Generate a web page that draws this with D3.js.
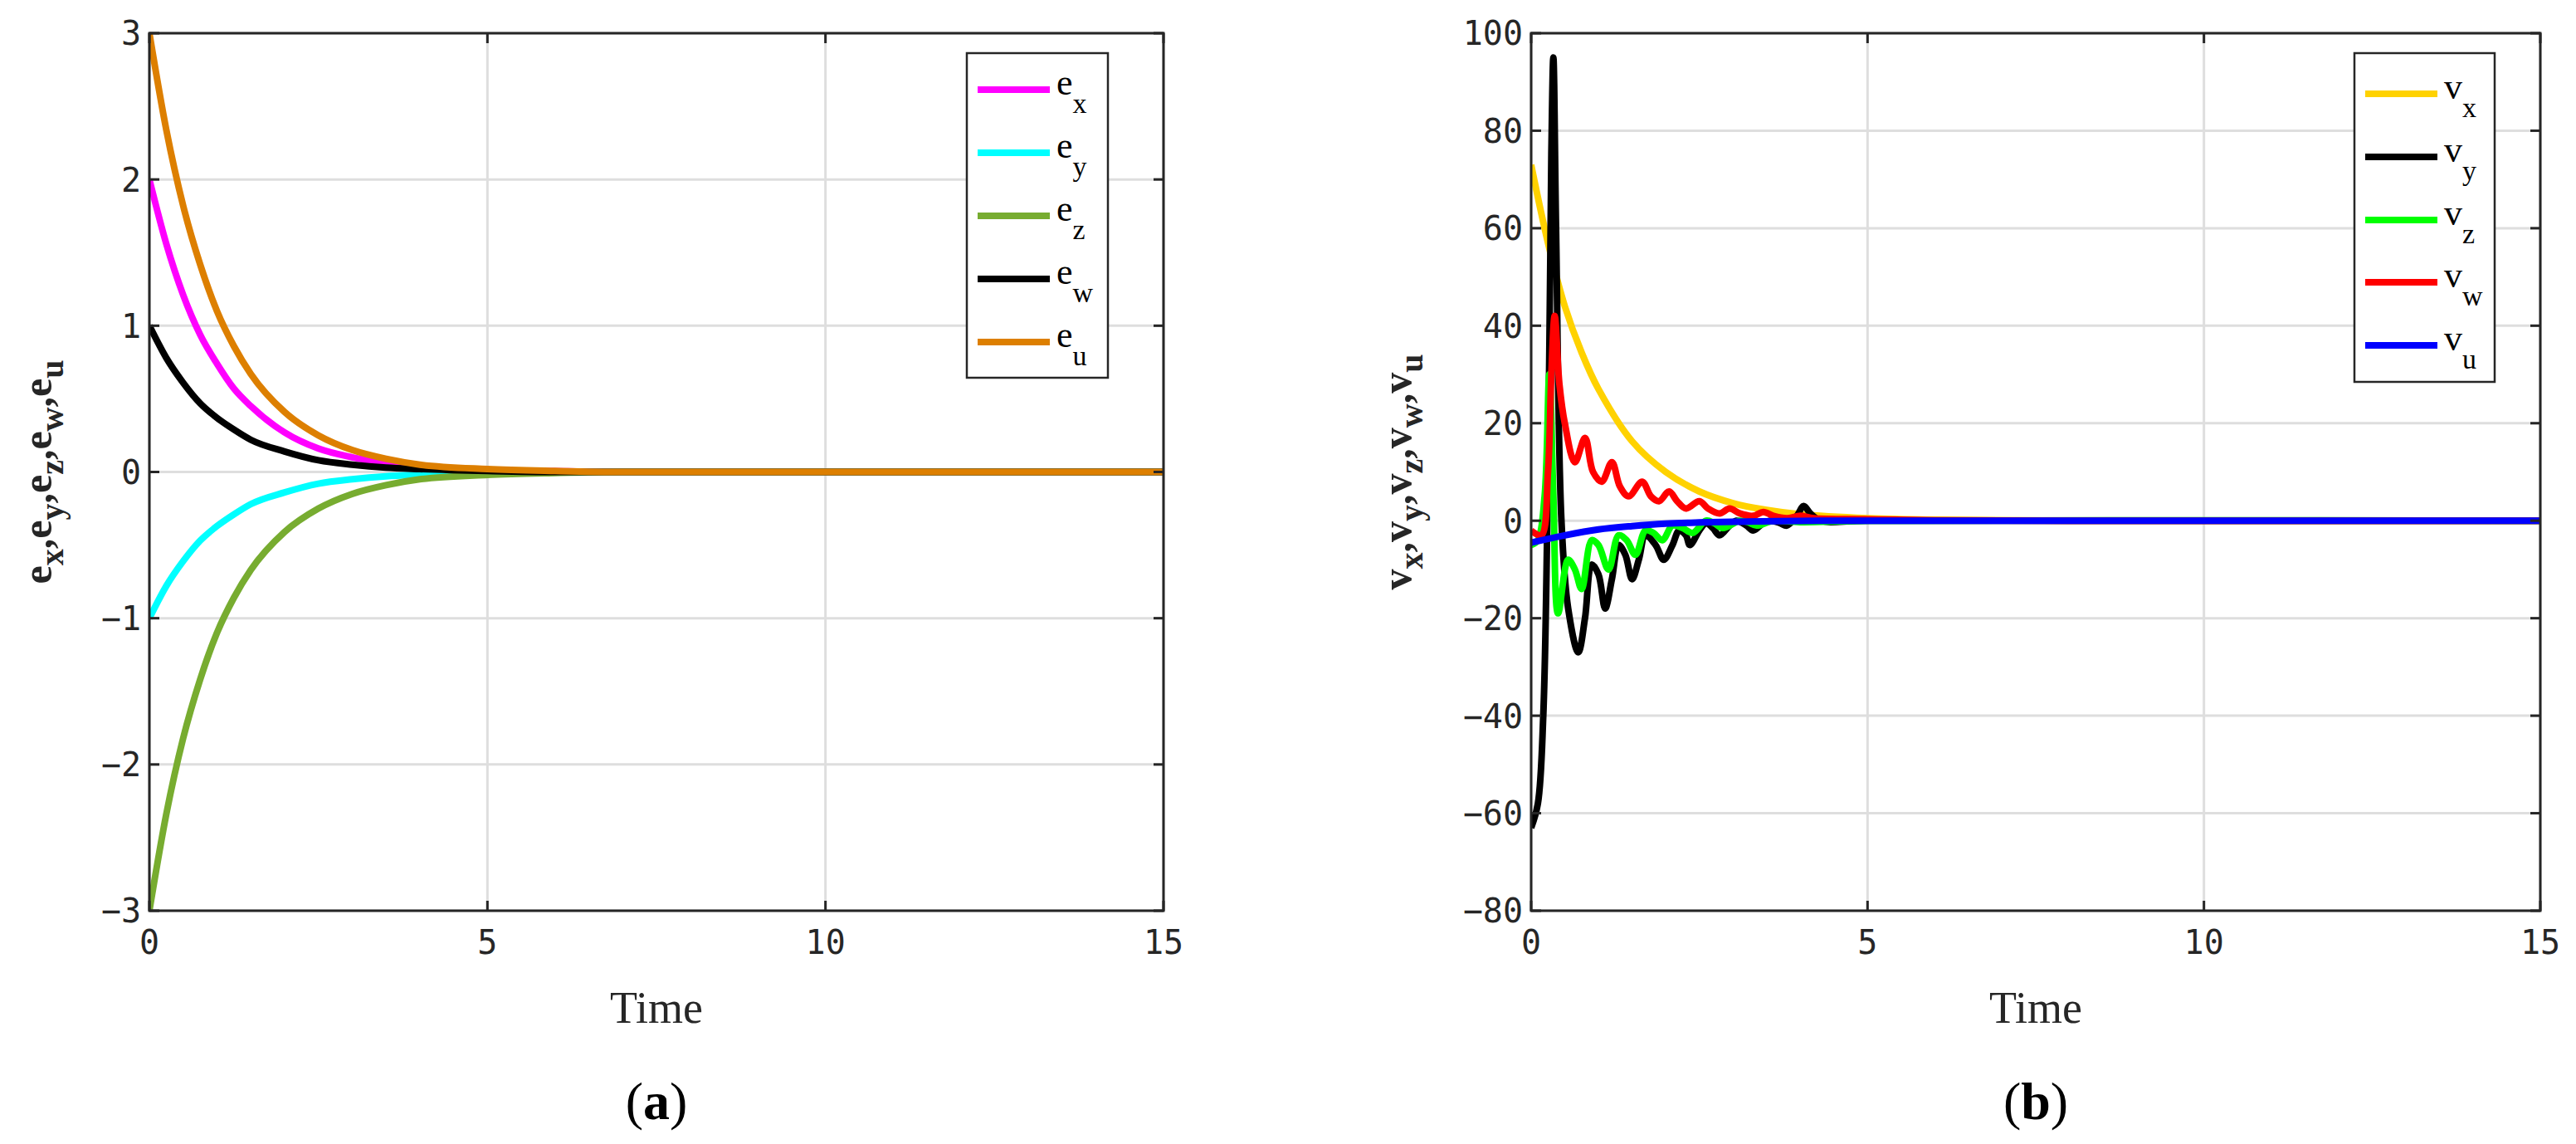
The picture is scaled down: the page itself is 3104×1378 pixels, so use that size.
<!DOCTYPE html>
<html><head><meta charset="utf-8">
<script src="https://cdn.jsdelivr.net/npm/d3@7"></script>
<style>body{margin:0;background:#fff}</style>
</head><body>
<svg id="c" width="3104" height="1378"></svg>
<script>
// panel (a): error signals
const tA = [0, 0.25, 0.5, 0.75, 1, 1.25, 1.5, 2, 2.5, 3, 3.5, 4, 5, 6, 7, 8, 10, 15];
const eX = [2, 1.56, 1.21, 0.94, 0.74, 0.57, 0.45, 0.27, 0.16, 0.10, 0.06, 0.04, 0.013, 0.005, 0, 0, 0, 0];
const eY = [-1, -0.78, -0.61, -0.47, -0.37, -0.29, -0.22, -0.14, -0.08, -0.05, -0.03, -0.02, -0.007, 0, 0, 0, 0, 0];
const eZ = [-3, -2.34, -1.82, -1.42, -1.10, -0.86, -0.67, -0.41, -0.25, -0.15, -0.09, -0.05, -0.02, -0.007, 0, 0, 0, 0];
const eW = [1, 0.78, 0.61, 0.47, 0.37, 0.29, 0.22, 0.14, 0.08, 0.05, 0.03, 0.02, 0.007, 0, 0, 0, 0, 0];
const eU = [3, 2.34, 1.82, 1.42, 1.10, 0.86, 0.67, 0.41, 0.25, 0.15, 0.09, 0.05, 0.02, 0.007, 0, 0, 0, 0];

// panel (b): control inputs
const vxT = [0, 0.25, 0.5, 0.75, 1, 1.5, 2, 2.5, 3, 3.5, 4, 5, 6, 8, 15];
const vxV = [73, 57, 44, 34.5, 27, 16.3, 10, 6, 3.6, 2.2, 1.3, 0.5, 0.2, 0, 0];
const vyT = [0, 0.1, 0.18, 0.25, 0.3, 0.33, 0.37, 0.45, 0.55, 0.7, 0.8, 0.9, 1.0, 1.1, 1.2, 1.3, 1.4, 1.5, 1.6, 1.7, 1.85, 1.97, 2.1, 2.2, 2.3, 2.36, 2.5, 2.6, 2.7, 2.8, 2.95, 3.05, 3.2, 3.3, 3.45, 3.55, 3.7, 3.8, 3.95, 4.05, 4.15, 4.3, 5, 15];
const vyV = [-63, -58, -40, 10, 75, 95, 60, 0, -18, -27, -20, -9, -11, -18, -12, -5, -7, -12, -8, -3, -5, -8, -5, -2, -3, -5, -2, -0.5, -1.5, -3, -1, 0, -1, -2, -0.5, 0, -0.5, -1, 1, 3, 1.5, 0, 0, 0];
const vzT = [0, 0.1, 0.2, 0.27, 0.33, 0.4, 0.55, 0.65, 0.75, 0.9, 1.0, 1.15, 1.3, 1.42, 1.55, 1.7, 1.82, 1.95, 2.1, 2.25, 2.4, 2.6, 2.72, 2.85, 3.1, 3.22, 3.35, 3.6, 4, 5, 15];
const vzV = [-5, -4, 5, 30, 5, -19, -8, -10, -14, -4, -5, -10, -3, -4, -7, -2, -2.5, -4, -1, -1.5, -2.5, 0, -0.5, -1.5, 0, -0.3, -1, 0, -0.3, 0, 0];
const vwT = [0, 0.15, 0.25, 0.3, 0.35, 0.42, 0.5, 0.65, 0.8, 0.92, 1.05, 1.2, 1.32, 1.45, 1.65, 1.78, 1.9, 2.05, 2.17, 2.3, 2.5, 2.63, 2.8, 2.95, 3.1, 3.3, 3.45, 3.6, 3.8, 4.0, 4.2, 5, 6, 8, 15];
const vwV = [-2, -3, 10, 30, 42, 28, 20, 12, 17, 10, 8, 12, 7, 5, 8, 5, 4, 6, 4, 2.5, 4, 2.5, 1.5, 2.5, 1.5, 1, 1.8, 1, 0.5, 1, 0.5, 0.3, 0.1, 0, 0];
const vuT = [0, 0.5, 1, 1.5, 2, 2.5, 3, 4, 5, 15];
const vuV = [-4.5, -3, -1.8, -1.1, -0.6, -0.35, -0.2, -0.05, 0, 0];

const xTicks = [0, 5, 10, 15];
const yTicksA = [-3, -2, -1, 0, 1, 2, 3];
const yTicksB = [-80, -60, -40, -20, 0, 20, 40, 60, 80, 100];

const panelA = {
  left: 180, right: 1402, top: 40, bottom: 1097, yDomain: [-3, 3], yTicks: yTicksA,
  yLabelX: 62, letter: "a", base: "e",
  legend: { x0: 1165, y0: 64, x1: 1335, y1: 455, rows: [108, 184, 260, 336, 412] },
  series: [
    { sub: "x", t: tA, v: eX, color: "#ff00ff" },
    { sub: "y", t: tA, v: eY, color: "#00ffff" },
    { sub: "z", t: tA, v: eZ, color: "#77ac30" },
    { sub: "w", t: tA, v: eW, color: "#000000" },
    { sub: "u", t: tA, v: eU, color: "#dd7f00" }
  ],
  curve: d3.curveMonotoneX
};
const panelB = {
  left: 1845, right: 3061, top: 40, bottom: 1097, yDomain: [-80, 100], yTicks: yTicksB,
  yLabelX: 1700, letter: "b", base: "v",
  legend: { x0: 2837, y0: 64, x1: 3006, y1: 460, rows: [113, 189, 265, 340, 416] },
  series: [
    { sub: "x", t: vxT, v: vxV, color: "#ffd200" },
    { sub: "y", t: vyT, v: vyV, color: "#000000" },
    { sub: "z", t: vzT, v: vzV, color: "#00ff00" },
    { sub: "w", t: vwT, v: vwV, color: "#ff0000" },
    { sub: "u", t: vuT, v: vuV, color: "#0000ff" }
  ],
  curve: d3.curveCatmullRom.alpha(0.5)
};

const svg = d3.select("#c");
const serif = "'Liberation Serif', 'DejaVu Serif', serif";
const mono = "'DejaVu Sans Mono', monospace";

function drawPanel(p) {
  const x = d3.scaleLinear().domain([0, 15]).range([p.left, p.right]);
  const y = d3.scaleLinear().domain(p.yDomain).range([p.bottom, p.top]);
  const g = svg.append("g");

  // grid
  g.selectAll(".gx").data(xTicks).enter().append("line")
    .attr("x1", d => x(d)).attr("x2", d => x(d)).attr("y1", p.top).attr("y2", p.bottom)
    .attr("stroke", "#dedede").attr("stroke-width", 3);
  g.selectAll(".gy").data(p.yTicks).enter().append("line")
    .attr("x1", p.left).attr("x2", p.right).attr("y1", d => y(d)).attr("y2", d => y(d))
    .attr("stroke", "#dedede").attr("stroke-width", 3);

  // series
  const clip = "clip" + p.letter;
  svg.append("clipPath").attr("id", clip).append("rect")
    .attr("x", p.left).attr("y", p.top).attr("width", p.right - p.left).attr("height", p.bottom - p.top);
  p.series.forEach(s => {
    const line = d3.line().x((d, i) => x(s.t[i])).y(d => y(d)).curve(p.curve);
    g.append("path").datum(s.v).attr("d", line)
      .attr("fill", "none").attr("stroke", s.color).attr("stroke-width", 8)
      .attr("stroke-linejoin", "round").attr("clip-path", `url(#${clip})`);
  });

  // frame and ticks
  g.append("rect").attr("x", p.left).attr("y", p.top)
    .attr("width", p.right - p.left).attr("height", p.bottom - p.top)
    .attr("fill", "none").attr("stroke", "#262626").attr("stroke-width", 3);
  const tl = 12;
  p.yTicks.forEach(d => {
    g.append("line").attr("x1", p.left).attr("x2", p.left + tl).attr("y1", y(d)).attr("y2", y(d)).attr("stroke", "#262626").attr("stroke-width", 3);
    g.append("line").attr("x1", p.right).attr("x2", p.right - tl).attr("y1", y(d)).attr("y2", y(d)).attr("stroke", "#262626").attr("stroke-width", 3);
  });
  xTicks.forEach(d => {
    g.append("line").attr("x1", x(d)).attr("x2", x(d)).attr("y1", p.bottom).attr("y2", p.bottom - tl).attr("stroke", "#262626").attr("stroke-width", 3);
    g.append("line").attr("x1", x(d)).attr("x2", x(d)).attr("y1", p.top).attr("y2", p.top + tl).attr("stroke", "#262626").attr("stroke-width", 3);
  });

  // tick labels
  g.selectAll(".ty").data(p.yTicks).enter().append("text")
    .attr("x", p.left - 10).attr("y", d => y(d)).attr("dy", "0.36em")
    .attr("text-anchor", "end").style("font-family", mono).style("font-size", "40px")
    .attr("fill", "#262626").text(d => d < 0 ? "\u2212" + Math.abs(d) : d);
  g.selectAll(".tx").data(xTicks).enter().append("text")
    .attr("x", d => x(d)).attr("y", p.bottom + 52)
    .attr("text-anchor", "middle").style("font-family", mono).style("font-size", "40px")
    .attr("fill", "#262626").text(d => d);

  // axis titles
  g.append("text").attr("x", (p.left + p.right) / 2).attr("y", p.bottom + 135)
    .attr("text-anchor", "middle").style("font-family", serif).style("font-size", "54px")
    .attr("fill", "#262626").text("Time");
  const yl = g.append("text")
    .attr("transform", `translate(${p.yLabelX},${(p.top + p.bottom) / 2}) rotate(-90)`)
    .attr("text-anchor", "middle").style("font-family", serif).style("font-size", "50px")
    .style("font-weight", "bold").attr("fill", "#262626");
  p.series.forEach((s, i) => {
    yl.append("tspan").text(p.base);
    yl.append("tspan").attr("dy", 14).style("font-size", "40px").text(s.sub);
    yl.append("tspan").attr("dy", -14).text(i < p.series.length - 1 ? "," : "");
  });

  g.append("text").attr("x", (p.left + p.right) / 2).attr("y", 1348)
    .attr("text-anchor", "middle").style("font-family", serif).style("font-size", "64px")
    .attr("fill", "#000").html(`(<tspan font-weight="bold">${p.letter}</tspan>)`);

  // legend
  const L = p.legend;
  g.append("rect").attr("x", L.x0).attr("y", L.y0).attr("width", L.x1 - L.x0).attr("height", L.y1 - L.y0)
    .attr("fill", "#fff").attr("stroke", "#262626").attr("stroke-width", 2.5);
  p.series.forEach((s, i) => {
    const ry = L.rows[i];
    g.append("line").attr("x1", L.x0 + 13).attr("x2", L.x0 + 100).attr("y1", ry).attr("y2", ry)
      .attr("stroke", s.color).attr("stroke-width", 8);
    const t = g.append("text").attr("x", L.x0 + 108).attr("y", ry + 6)
      .style("font-family", serif).style("font-size", "44px").attr("fill", "#000");
    t.append("tspan").text(p.base);
    t.append("tspan").attr("dy", 22).style("font-size", "34px").text(s.sub);
  });
}

drawPanel(panelA);
drawPanel(panelB);
</script>
</body></html>
